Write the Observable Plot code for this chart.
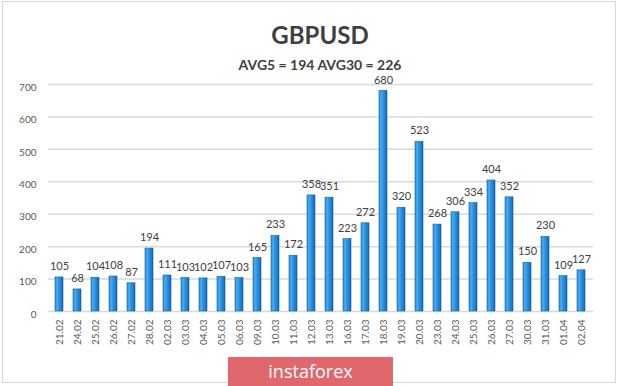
<!DOCTYPE html>
<html>
<head>
<meta charset="utf-8">
<script src="https://cdn.jsdelivr.net/npm/d3@7"></script>
<script src="https://cdn.jsdelivr.net/npm/@observablehq/plot@0.6"></script>
<style>
  html, body { margin: 0; padding: 0; background: #fff; }
  #wrap { position: relative; width: 620px; height: 386px; overflow: hidden; background: #fff; font-family: Lato, "Open Sans", sans-serif; }
  #frame { position: absolute; left: 2px; top: 1px; width: 614px; height: 382px; border: 1px solid #d6d6d6; box-sizing: border-box; }
  #chart { position: absolute; left: 0; top: 0; }
  #title { position: absolute; left: 10px; width: 620px; top: 20px; height: 30px; line-height: 30px; text-align: center; font-size: 24px; font-weight: bold; color: #404040; }
  #subtitle { position: absolute; left: 10px; width: 620px; top: 58px; height: 14px; line-height: 14px; text-align: center; font-size: 14px; font-weight: bold; color: #404040; }
  #logo { position: absolute; left: 228px; top: 357px; width: 165px; height: 29px; line-height: 29px; background: #e0676b; color: #fff; text-align: center; font-family: "Open Sans", sans-serif; font-size: 18px; }
</style>
</head>
<body>
<div id="wrap">
  <div id="frame"></div>
  <div id="chart"></div>
  <div id="title">GBPUSD</div>
  <div id="subtitle">AVG5 = 194 AVG30 = 226</div>
  <div id="logo">instaforex</div>
</div>
<script>
const dates = ["21.02","24.02","25.02","26.02","27.02","28.02","02.03","03.03","04.03","05.03","06.03","09.03","10.03","11.03","12.03","13.03","16.03","17.03","18.03","19.03","20.03","23.03","24.03","25.03","26.03","27.03","30.03","31.03","01.04","02.04"];
const values = [105,68,104,108,87,194,111,103,102,107,103,165,233,172,358,351,223,272,680,320,523,268,306,334,404,352,150,230,109,127];
const yTicks = [0,100,200,300,400,500,600,700];

const data = dates.map((d, i) => ({date: d, value: values[i]}));

const chart = Plot.plot({
  width: 620,
  height: 386,
  marginTop: 84,
  marginBottom: 75,
  marginLeft: 49,
  marginRight: 29,
  style: {background: "transparent", color: "#595959", fontFamily: "Lato, 'Open Sans', sans-serif"},
  x: {domain: dates, paddingInner: 0.55, paddingOuter: 0.275},
  y: {domain: [0, 700]},
  marks: [
    Plot.ruleY(yTicks, {stroke: "#d9d9d9", strokeWidth: 1.5, insetLeft: -1, insetRight: -2}),
    Plot.barY(data, {x: "date", y: "value", fill: "url(#barGrad)", stroke: "#1a5f99", strokeWidth: 0.6}),
    Plot.text(data, {x: "date", y: "value", text: d => String(d.value), dy: -11, fill: "#404040", fontSize: 11}),
    Plot.axisY({ticks: yTicks, tickSize: 0, tickPadding: 13, fontSize: 10, label: null, dy: 3}),
    Plot.axisX({tickRotate: -90, tickSize: 0, tickPadding: 8, fontSize: 10, label: null})
  ]
});

const ns = "http://www.w3.org/2000/svg";
const defs = document.createElementNS(ns, "defs");
defs.innerHTML = `<linearGradient id="barGrad" x1="0" y1="0" x2="1" y2="0">
  <stop offset="0%" stop-color="#2a8ad6"/>
  <stop offset="25%" stop-color="#4aaaf0"/>
  <stop offset="55%" stop-color="#2592e0"/>
  <stop offset="85%" stop-color="#1878c8"/>
  <stop offset="100%" stop-color="#0f5c9e"/>
</linearGradient>`;
chart.insertBefore(defs, chart.firstChild);
document.getElementById("chart").appendChild(chart);
</script>
</body>
</html>
